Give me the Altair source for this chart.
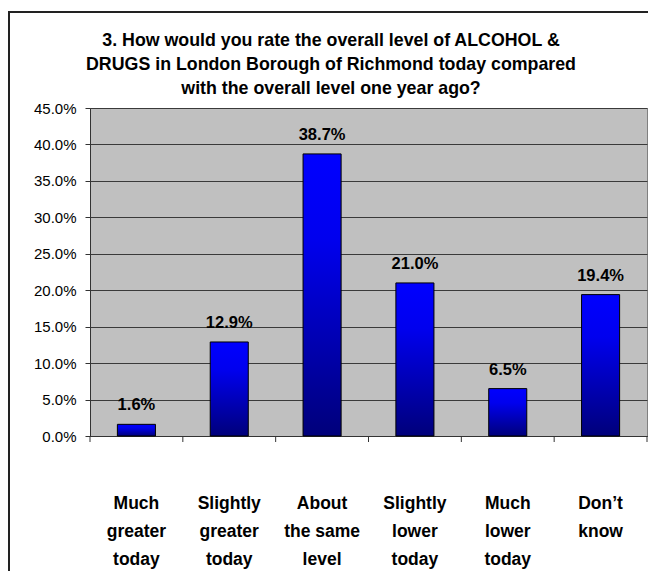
import json
import altair as alt
import pandas as pd

categories = [
    "Much greater today",
    "Slightly greater today",
    "About the same level",
    "Slightly lower today",
    "Much lower today",
    "Don\u2019t know",
]
label_lines = [
    "Much|greater|today",
    "Slightly|greater|today",
    "About|the same|level",
    "Slightly|lower|today",
    "Much|lower|today",
    "Don\u2019t|know",
]
values = [1.6, 12.9, 38.7, 21.0, 6.5, 19.4]
y_ticks = [0, 5, 10, 15, 20, 25, 30, 35, 40, 45]
title_lines = [
    "3. How would you rate the overall level of ALCOHOL &",
    "DRUGS in London Borough of Richmond today compared",
    "with the overall level one year ago?",
]

df = pd.DataFrame({"cat": categories, "val": values})

FONT = "Liberation Sans"
W, H = 557, 328

label_map = json.dumps(dict(zip(categories, label_lines)))

xscale = alt.Scale(paddingInner=0, paddingOuter=0)
yscale = alt.Scale(domain=[0, 45], nice=False)

x_axis = alt.Axis(
    labelExpr=f"split({label_map}[datum.label], '|')",
    labelAngle=0,
    labelFont=FONT,
    labelFontSize=17.5,
    labelFontWeight="bold",
    labelColor="black",
    labelLineHeight=28,
    labelPadding=58,
    ticks=False,
    tickSize=0,
    domainColor="#333333",
    domainWidth=1,
    grid=False,
)
y_axis = alt.Axis(
    values=y_ticks,
    labelExpr="format(datum.value, '.1f') + '%'",
    labelFont=FONT,
    labelFontSize=15,
    labelColor="black",
    labelPadding=9,
    tickSize=5,
    tickColor="#333333",
    domainColor="#333333",
    gridColor="#3a3a3a",
    gridWidth=1,
)

x_enc = alt.X("cat:N", sort=categories, scale=xscale, title=None, axis=x_axis)
y_enc = alt.Y("val:Q", scale=yscale, title=None, axis=y_axis)

base = alt.Chart(df)

bars = base.mark_bar(
    width=alt.RelativeBandSize(0.41),
    stroke="black",
    strokeWidth=1,
    color=alt.LinearGradient(
        gradient="linear",
        stops=[
            alt.GradientStop(color="#0000FF", offset=0),
            alt.GradientStop(color="#0000EE", offset=0.3),
            alt.GradientStop(color="#00007A", offset=1),
        ],
        x1=0, x2=0, y1=0, y2=1,
    ),
).encode(x=x_enc, y=y_enc)

xticks = base.mark_rule(color="#333333", strokeWidth=1).encode(
    x=alt.X("cat:N", sort=categories, scale=xscale, bandPosition=0, title=None, axis=x_axis),
    y=alt.value(H),
    y2=alt.value(H + 6),
)

texts = base.transform_calculate(
    txt="format(datum.val, '.1f') + '%'"
).mark_text(
    font=FONT, fontSize=16.5, fontWeight="bold", color="black", dy=-14, baseline="alphabetic"
).encode(x=x_enc, y=y_enc, text="txt:N")

one = alt.Chart(pd.DataFrame({"a": [0]}))

end_tick = one.mark_rule(color="#333333", strokeWidth=1).encode(
    x=alt.value(W), y=alt.value(H), y2=alt.value(H + 6)
)

title = one.mark_text(
    text=title_lines,
    font=FONT,
    fontSize=17.8,
    fontWeight="bold",
    color="black",
    align="center",
    baseline="alphabetic",
    lineHeight=24,
).encode(x=alt.value(241), y=alt.value(-62))

border = one.mark_rect(
    filled=False, stroke="#222222", strokeWidth=2
).encode(
    x=alt.value(-81),
    x2=alt.value(W + 40),
    y=alt.value(-96),
    y2=alt.value(H + 200),
)

chart = alt.layer(bars, xticks, end_tick, texts, title, border).properties(
    width=W,
    height=H,
    background="white",
    autosize=alt.AutoSizeParams(type="none"),
    padding={"left": 82, "top": 100, "right": 1, "bottom": 135},
).configure_view(
    fill="#C0C0C0", stroke="#808080", strokeWidth=1
)

chart.save("out.html", embed_options={"renderer": "svg", "actions": False})
